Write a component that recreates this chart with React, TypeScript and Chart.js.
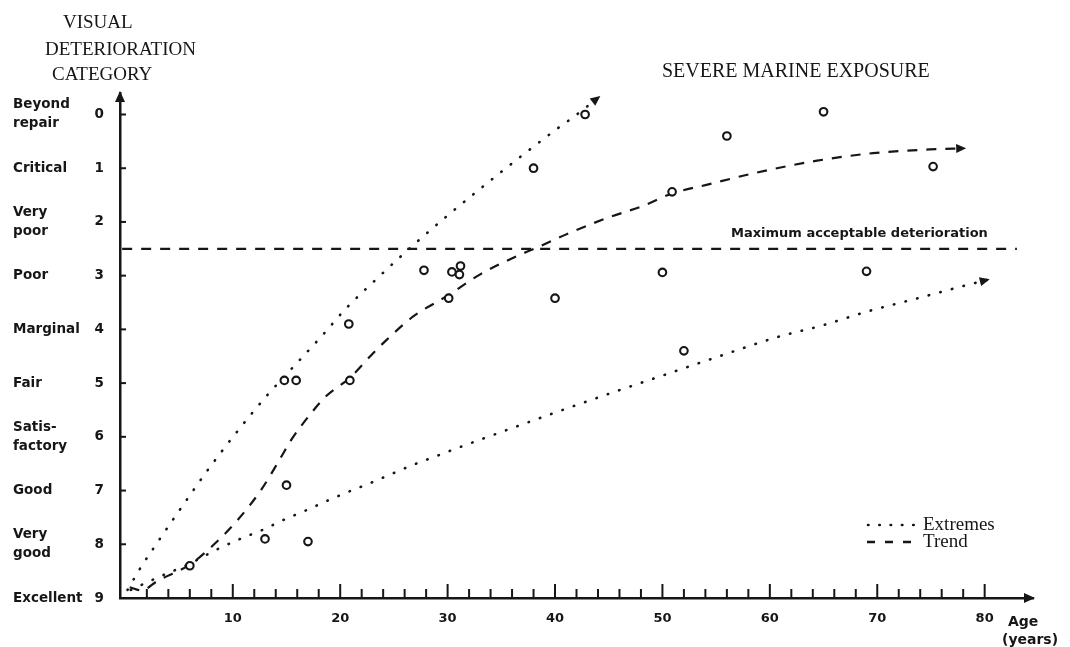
import React, { useEffect, useRef } from "react";
import { Chart, registerables } from "chart.js";
Chart.register(...registerables);

// ---------- data ----------
const categoryLabels: string[][] = [
  ["Beyond", "repair"],
  ["Critical"],
  ["Very", "poor"],
  ["Poor"],
  ["Marginal"],
  ["Fair"],
  ["Satis-", "factory"],
  ["Good"],
  ["Very", "good"],
  ["Excellent"],
];
const yTicks = [0, 1, 2, 3, 4, 5, 6, 7, 8, 9];
const xTickLabels = [10, 20, 30, 40, 50, 60, 70, 80];
const xMinorTicks = [2, 4, 6, 8, 12, 14, 16, 18, 22, 24, 26, 28, 32, 34, 36, 38, 42, 44, 46, 48, 52, 54, 56, 58, 62, 64, 66, 68, 72, 74, 76, 78];

const obsAge = [6, 13, 15, 14.8, 15.9, 17, 20.9, 20.8, 27.8, 30.1, 30.4, 31.2, 31.1, 38, 40, 42.8, 50, 50.9, 52, 56, 65, 69, 75.2];
const obsCat = [8.4, 7.9, 6.9, 4.95, 4.95, 7.95, 4.95, 3.9, 2.9, 3.42, 2.93, 2.82, 2.98, 1, 3.42, 0, 2.94, 1.44, 4.4, 0.4, -0.05, 2.92, 0.97];

const trendAge = [0.4, 1.5, 3, 6, 8, 10.4, 12.7, 14.4, 15.5, 17.5, 18.7, 20.9, 22.8, 24.3, 26.8, 30.1, 33, 36.4, 38.3, 41.4, 44.8, 48.2, 50.9, 54.1, 58.8, 64.4, 69.6, 74.9, 78];
const trendCat = [8.8, 8.86, 8.68, 8.38, 8.05, 7.56, 6.97, 6.41, 6.04, 5.51, 5.24, 4.9, 4.5, 4.2, 3.76, 3.36, 2.98, 2.64, 2.48, 2.2, 1.93, 1.7, 1.47, 1.31, 1.08, 0.86, 0.72, 0.65, 0.63];

const upperAge = [0.2, 1.5, 2.7, 5.2, 7.7, 10.3, 13.1, 15.3, 18.3, 20.5, 23.5, 26.7, 30, 33.3, 36.7, 40.1, 41.9, 44];
const upperCat = [8.85, 8.41, 8.05, 7.32, 6.61, 5.93, 5.25, 4.77, 4.12, 3.62, 3.04, 2.45, 1.88, 1.34, 0.8, 0.28, 0.02, -0.31];

const lowerAge = [0.5, 3, 6, 8.8, 10.7, 12.8, 14.8, 16.8, 18.8, 20.8, 22.8, 24.8, 26.8, 28.8, 30.9, 32.8, 40, 45, 50, 55, 60.6, 65, 69.2, 73.4, 77.5, 80.2];
const lowerCat = [8.85, 8.62, 8.36, 8.07, 7.9, 7.73, 7.54, 7.37, 7.19, 7.02, 6.86, 6.69, 6.52, 6.37, 6.21, 6.07, 5.55, 5.2, 4.86, 4.52, 4.15, 3.92, 3.66, 3.44, 3.22, 3.08];

const limitAge = [-0.3, 83];
const limitCat = [2.5, 2.5];

const INK = "#161616";
const SANS = "'DejaVu Sans', sans-serif";
const SERIF = "'Liberation Serif', serif";

const pts = (xs: number[], ys: number[]) => xs.map((x, i) => ({ x, y: ys[i] }));

function arrowHead(ctx: CanvasRenderingContext2D, x: number, y: number, ang: number, len = 10, half = 4.5) {
  ctx.save();
  ctx.translate(x, y);
  ctx.rotate(ang);
  ctx.beginPath();
  ctx.moveTo(0, 0);
  ctx.lineTo(-len, -half);
  ctx.lineTo(-len, half);
  ctx.closePath();
  ctx.fillStyle = INK;
  ctx.fill();
  ctx.restore();
}

const decor = {
  id: "decor",
  afterDraw(chart: any) {
    const ctx: CanvasRenderingContext2D = chart.ctx;
    const xs = chart.scales.x;
    const ys = chart.scales.y;
    const a = chart.chartArea;
    ctx.save();
    ctx.fillStyle = INK;
    ctx.strokeStyle = INK;

    // axis title
    ctx.font = `19px ${SERIF}`;
    ctx.textBaseline = "middle";
    ctx.textAlign = "left";
    ctx.fillText("VISUAL", 63, 23);
    ctx.fillText("DETERIORATION", 45, 50);
    ctx.fillText("CATEGORY", 52, 75);

    // chart title
    ctx.font = `20px ${SERIF}`;
    ctx.fillText("SEVERE MARINE EXPOSURE", 662, 72);

    // category labels
    ctx.font = `bold 13.5px ${SANS}`;
    categoryLabels.forEach((lines, i) => {
      const cy = ys.getPixelForValue(yTicks[i]);
      const lh = 19;
      const start = cy - ((lines.length - 1) * lh) / 2;
      lines.forEach((t, j) => ctx.fillText(t, 13, start + j * lh));
    });

    // y tick marks (inside)
    ctx.lineWidth = 2;
    yTicks.forEach((v) => {
      const py = ys.getPixelForValue(v);
      ctx.beginPath();
      ctx.moveTo(a.left, py);
      ctx.lineTo(a.left + 6, py);
      ctx.stroke();
    });
    // x tick marks (inside, upward)
    xTickLabels.forEach((v) => {
      const px = xs.getPixelForValue(v);
      ctx.beginPath();
      ctx.moveTo(px, a.bottom);
      ctx.lineTo(px, a.bottom - 14);
      ctx.stroke();
    });
    xMinorTicks.forEach((v) => {
      const px = xs.getPixelForValue(v);
      ctx.beginPath();
      ctx.moveTo(px, a.bottom);
      ctx.lineTo(px, a.bottom - 9);
      ctx.stroke();
    });

    // axis arrows
    arrowHead(ctx, a.left, a.top - 2, -Math.PI / 2, 11, 5);
    arrowHead(ctx, a.right + 2, a.bottom, 0, 11, 5);

    // curve arrows
    const curveEnds: [number[], number[]][] = [
      [upperAge, upperCat],
      [trendAge, trendCat],
      [lowerAge, lowerCat],
    ];
    curveEnds.forEach(([ax, ay]) => {
      const n = ax.length;
      const x1 = xs.getPixelForValue(ax[n - 2]);
      const y1 = ys.getPixelForValue(ay[n - 2]);
      const x2 = xs.getPixelForValue(ax[n - 1]);
      const y2 = ys.getPixelForValue(ay[n - 1]);
      const ang = Math.atan2(y2 - y1, x2 - x1);
      arrowHead(ctx, x2 + 3 * Math.cos(ang), y2 + 3 * Math.sin(ang), ang, 10, 4.5);
    });

    // limit label
    ctx.font = `bold 13px ${SANS}`;
    ctx.textAlign = "left";
    ctx.fillText("Maximum acceptable deterioration", 731, 234);

    // x axis title
    ctx.font = `bold 14px ${SANS}`;
    ctx.fillText("Age", 1008, 622);
    ctx.fillText("(years)", 1002, 640);

    // legend
    ctx.lineWidth = 2.6;
    ctx.lineCap = "round";
    ctx.setLineDash([0.5, 10.8]);
    ctx.beginPath();
    ctx.moveTo(868, 525);
    ctx.lineTo(918, 525);
    ctx.stroke();
    ctx.lineCap = "butt";
    ctx.setLineDash([8, 10]);
    ctx.beginPath();
    ctx.moveTo(867, 542);
    ctx.lineTo(917, 542);
    ctx.stroke();
    ctx.setLineDash([]);
    ctx.font = `19px ${SERIF}`;
    ctx.fillText("Extremes", 923, 525);
    ctx.fillText("Trend", 923, 542);

    ctx.restore();
  },
};

export default function App() {
  const ref = useRef<HTMLCanvasElement | null>(null);
  useEffect(() => {
    if (!ref.current) return;
    const dotted = {
      showLine: true,
      borderColor: INK,
      borderWidth: 2.6,
      borderDash: [0.5, 11.5],
      borderCapStyle: "round" as const,
      pointRadius: 0,
      cubicInterpolationMode: "monotone" as const,
      clip: false as any,
    };
    const chart = new Chart(ref.current, {
      type: "scatter",
      data: {
        datasets: [
          {
            label: "Observations",
            data: pts(obsAge, obsCat),
            showLine: false,
            pointStyle: "circle",
            pointRadius: 3.8,
            pointBorderWidth: 2.1,
            pointBorderColor: INK,
            pointBackgroundColor: "#ffffff",
            clip: false as any,
          },
          {
            label: "Trend",
            data: pts(trendAge, trendCat),
            showLine: true,
            borderColor: INK,
            borderWidth: 2.2,
            borderDash: [10, 9],
            pointRadius: 0,
            cubicInterpolationMode: "monotone",
            clip: false as any,
          },
          { label: "Upper extreme", data: pts(upperAge, upperCat), ...dotted },
          { label: "Lower extreme", data: pts(lowerAge, lowerCat), ...dotted },
          {
            label: "Maximum acceptable deterioration",
            data: pts(limitAge, limitCat),
            showLine: true,
            borderColor: INK,
            borderWidth: 2.2,
            borderDash: [10, 9],
            pointRadius: 0,
            clip: false as any,
          },
        ],
      },
      options: {
        responsive: false,
        animation: false,
        layout: { padding: { top: 93, right: 37, left: 0, bottom: 0 } },
        plugins: { legend: { display: false }, tooltip: { enabled: false }, title: { display: false } },
        scales: {
          x: {
            type: "linear",
            min: -0.5,
            max: 84.5,
            grid: { display: false },
            border: { display: true, color: INK, width: 2.5 },
            afterBuildTicks: (s: any) => {
              s.ticks = xTickLabels.map((v) => ({ value: v }));
            },
            afterFit: (s: any) => {
              s.height = 49;
            },
            ticks: {
              color: INK,
              font: { family: "DejaVu Sans", weight: "bold", size: 13 },
              padding: 5,
              maxRotation: 0,
              autoSkip: false,
              callback: (v: any) => String(v),
            },
          },
          y: {
            type: "linear",
            reverse: true,
            min: -0.4,
            max: 9,
            grid: { display: false },
            border: { display: true, color: INK, width: 2.5 },
            afterBuildTicks: (s: any) => {
              s.ticks = yTicks.map((v) => ({ value: v }));
            },
            afterFit: (s: any) => {
              s.width = 120;
            },
            ticks: {
              color: INK,
              font: { family: "DejaVu Sans", weight: "bold", size: 13.5 },
              padding: 8,
              autoSkip: false,
              callback: (v: any) => String(v),
            },
          },
        },
      },
      plugins: [decor],
    });
    return () => chart.destroy();
  }, []);
  return (
    <div style={{ position: "absolute", left: 0, top: 0, width: 1070, height: 647, background: "#fff" }}>
      <canvas ref={ref} width={1070} height={647} style={{ display: "block" }} />
    </div>
  );
}
